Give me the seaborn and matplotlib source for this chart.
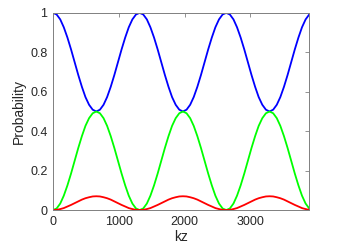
import numpy as np
import pandas as pd
import matplotlib
matplotlib.use("Agg")
import matplotlib.pyplot as plt
import seaborn as sns

# values (one sample every ~55 kz)
kz = [0, 55, 110, 164, 219, 274, 329, 384, 439, 493, 548, 603,
      658, 713, 768, 822, 877, 932, 987, 1042, 1097, 1151, 1206, 1261,
      1316, 1371, 1426, 1480, 1535, 1590, 1645, 1700, 1755, 1809, 1864, 1919,
      1974, 2029, 2084, 2138, 2193, 2248, 2303, 2358, 2413, 2467, 2522, 2577,
      2632, 2687, 2742, 2796, 2851, 2906, 2961, 3016, 3071, 3125, 3180, 3235,
      3290, 3345, 3400, 3454, 3509, 3564, 3619, 3674, 3729, 3783, 3838, 3893]

p_blue = [1.000, 0.992, 0.967, 0.927, 0.875, 0.815, 0.750, 0.685, 0.625, 0.573, 0.534, 0.509,
          0.500, 0.509, 0.534, 0.573, 0.625, 0.685, 0.750, 0.815, 0.875, 0.927, 0.967, 0.992,
          1.000, 0.992, 0.967, 0.927, 0.875, 0.815, 0.750, 0.685, 0.625, 0.573, 0.534, 0.509,
          0.500, 0.509, 0.534, 0.573, 0.625, 0.685, 0.750, 0.815, 0.875, 0.927, 0.967, 0.992,
          1.000, 0.992, 0.967, 0.927, 0.875, 0.815, 0.750, 0.685, 0.625, 0.573, 0.534, 0.509,
          0.500, 0.509, 0.534, 0.573, 0.625, 0.685, 0.750, 0.815, 0.875, 0.927, 0.967, 0.992]

p_green = [0.000, 0.008, 0.033, 0.073, 0.125, 0.185, 0.250, 0.315, 0.375, 0.427, 0.466, 0.491,
           0.500, 0.491, 0.466, 0.427, 0.375, 0.315, 0.250, 0.185, 0.125, 0.073, 0.033, 0.008,
           0.000, 0.008, 0.033, 0.073, 0.125, 0.185, 0.250, 0.315, 0.375, 0.427, 0.466, 0.491,
           0.500, 0.491, 0.466, 0.427, 0.375, 0.315, 0.250, 0.185, 0.125, 0.073, 0.033, 0.008,
           0.000, 0.008, 0.033, 0.073, 0.125, 0.185, 0.250, 0.315, 0.375, 0.427, 0.466, 0.491,
           0.500, 0.491, 0.466, 0.427, 0.375, 0.315, 0.250, 0.185, 0.125, 0.073, 0.033, 0.008]

p_red = [0.000, 0.001, 0.005, 0.010, 0.018, 0.026, 0.035, 0.044, 0.053, 0.060, 0.065, 0.069,
         0.070, 0.069, 0.065, 0.060, 0.053, 0.044, 0.035, 0.026, 0.018, 0.010, 0.005, 0.001,
         0.000, 0.001, 0.005, 0.010, 0.018, 0.026, 0.035, 0.044, 0.053, 0.060, 0.065, 0.069,
         0.070, 0.069, 0.065, 0.060, 0.053, 0.044, 0.035, 0.026, 0.018, 0.010, 0.005, 0.001,
         0.000, 0.001, 0.005, 0.010, 0.018, 0.026, 0.035, 0.044, 0.053, 0.060, 0.065, 0.069,
         0.070, 0.069, 0.065, 0.060, 0.053, 0.044, 0.035, 0.026, 0.018, 0.010, 0.005, 0.001]

x_ticks = [0, 1000, 2000, 3000]
y_ticks = [0, 0.2, 0.4, 0.6, 0.8, 1]
y_labels = ["0", "0.2", "0.4", "0.6", "0.8", "1"]

sns.set_style("white")
plt.rcParams['font.family'] = ['Liberation Sans', 'DejaVu Sans']

df = pd.DataFrame({"kz": kz, "blue": p_blue, "green": p_green, "red": p_red})

fig = plt.figure(figsize=(3.51, 2.48), dpi=100)
ax = fig.add_axes([0.151, 0.153, 0.730, 0.795])

sns.lineplot(data=df, x="kz", y="blue", color=(0, 0, 1), lw=1.3, ax=ax)
sns.lineplot(data=df, x="kz", y="green", color=(0, 1, 0), lw=1.3, ax=ax)
sns.lineplot(data=df, x="kz", y="red", color=(1, 0, 0), lw=1.3, ax=ax)

ax.set_xlim(0, kz[-1])
ax.set_ylim(0, 1)
ax.set_xticks(x_ticks)
ax.set_yticks(y_ticks)
ax.set_yticklabels(y_labels)
ax.tick_params(direction='in', length=2.8, width=0.6, color='#808080',
               labelsize=9, labelcolor='#262626', top=True, right=True,
               pad=4)
for s in ax.spines.values():
    s.set_color('#808080')
    s.set_linewidth(0.7)
ax.set_xlabel("kz", fontsize=10, color='#262626', labelpad=2)
ax.set_ylabel("Probability", fontsize=10, color='#262626', labelpad=3)

fig.savefig("out.png", dpi=100)
